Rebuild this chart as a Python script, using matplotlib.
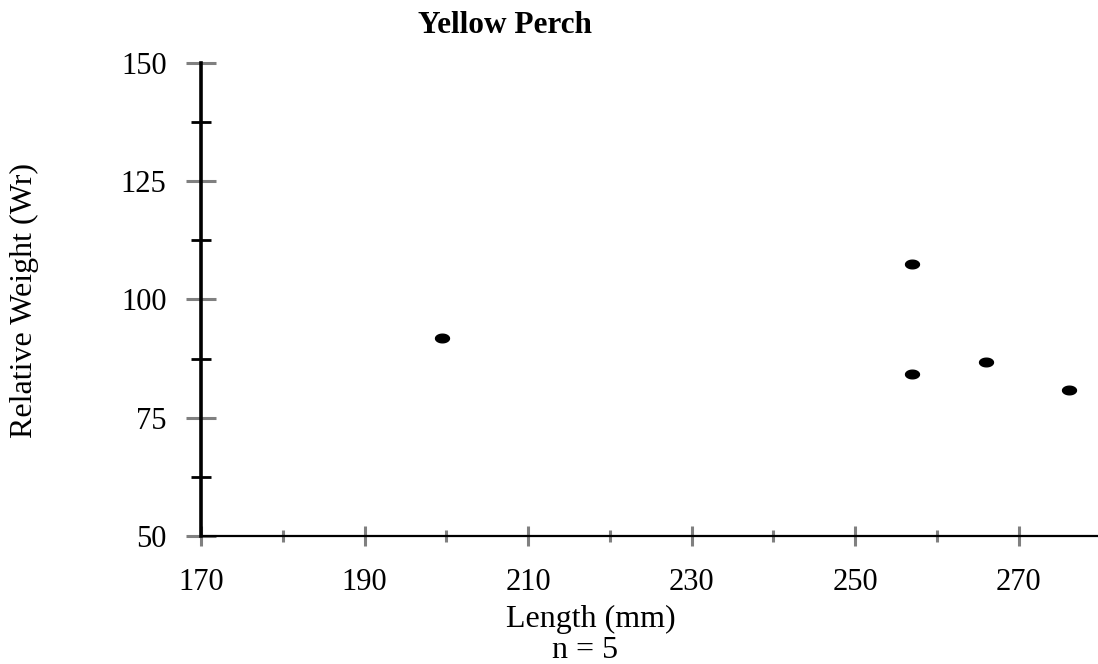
import matplotlib
matplotlib.use("Agg")
import matplotlib.pyplot as plt
import numpy as np
from matplotlib.path import Path
from matplotlib.ticker import MultipleLocator

# Yellow Perch relative weight data
length_mm = [199.5, 257.0, 257.0, 266.0, 276.1]
rel_weight = [91.9, 107.6, 84.2, 86.8, 80.9]

x_major = [170, 190, 210, 230, 250, 270]
y_major = [50, 75, 100, 125, 150]

plt.rcParams['font.family'] = ['Liberation Serif', 'DejaVu Serif']

W, H = 1098, 664
fig = plt.figure(figsize=(W / 100, H / 100), dpi=100)
ax = fig.add_axes([0.1831, 0.1928, 0.8169, 0.7123])

# ellipse shaped marker
t = np.linspace(0, 2 * np.pi, 60)
ellipse = Path(np.column_stack([np.cos(t) * 1.0, np.sin(t) * 0.62]), closed=True)

ax.plot(length_mm, rel_weight, linestyle='none', marker=ellipse,
        markersize=10, color='black', clip_on=False, zorder=5)

ax.set_xlim(170, 279.7)
ax.set_ylim(50, 150)
ax.set_xticks(x_major)
ax.set_yticks(y_major)
ax.xaxis.set_minor_locator(MultipleLocator(10))
ax.yaxis.set_minor_locator(MultipleLocator(12.5))

for s in ['top', 'right']:
    ax.spines[s].set_visible(False)
ax.spines['left'].set_linewidth(2.6)
ax.spines['left'].set_color('black')
ax.spines['bottom'].set_linewidth(1.6)
ax.spines['bottom'].set_color('black')

ax.tick_params(axis='y', which='major', direction='inout', length=21.6,
               width=2.2, color='#808080', labelsize=22, pad=14)
ax.tick_params(axis='y', which='minor', direction='inout', length=15,
               width=2.0, color='black')
ax.tick_params(axis='x', which='major', direction='inout', length=13.7,
               width=2.2, color='#808080', labelsize=22, pad=16)
ax.tick_params(axis='x', which='minor', direction='inout', length=8.6,
               width=2.2, color='#808080')

# titles and labels placed in figure pixels
fig.text(505 / W, 1 - 33 / H, 'Yellow Perch', fontsize=22.5, fontweight='bold',
         ha='center', va='baseline')
fig.text(24 / W, 1 - 300 / H, 'Relative Weight (Wr)', fontsize=23,
         rotation=90, ha='center', va='center')
fig.text(591 / W, 1 - 627 / H, 'Length (mm)', fontsize=23,
         ha='center', va='baseline')
fig.text(585 / W, 1 - 658 / H, 'n = 5', fontsize=23,
         ha='center', va='baseline')

fig.savefig('out.png', dpi=100)
